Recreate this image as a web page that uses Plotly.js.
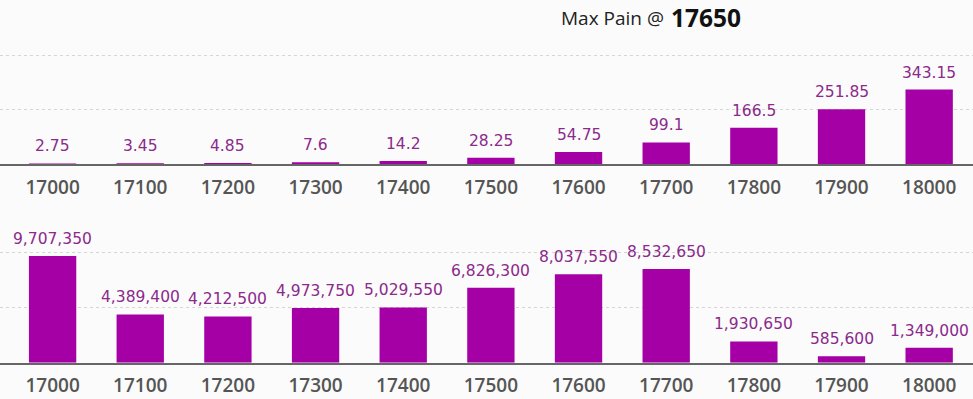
<!DOCTYPE html>
<html>
<head>
<meta charset="utf-8">
<script src="https://cdn.plot.ly/plotly-3.0.1.min.js"></script>
<style>html,body{margin:0;padding:0;background:#fbfbfb;}#chart{width:973px;height:399px;}</style>
</head>
<body>
<div id="chart"></div>
<script>
const strikes = ["17000","17100","17200","17300","17400","17500","17600","17700","17800","17900","18000"];
const painValues = [2.75, 3.45, 4.85, 7.6, 14.2, 28.25, 54.75, 99.1, 166.5, 251.85, 343.15];
const oiValues = [9707350, 4389400, 4212500, 4973750, 5029550, 6826300, 8037550, 8532650, 1930650, 585600, 1349000];
const titlePrefix = "Max Pain @";
const maxPain = "17650";

const barColor = "#a400a6";
const labelColor = "#8b2a8b";
const labelFont = {family: "DejaVu Sans, sans-serif", size: 15.5, color: labelColor};

const data = [
  {type: "bar", x: strikes, y: painValues, xaxis: "x", yaxis: "y",
   marker: {color: barColor}, hoverinfo: "none"},
  {type: "bar", x: strikes, y: oiValues, xaxis: "x2", yaxis: "y2",
   marker: {color: barColor}, hoverinfo: "none"}
];

const annotations = [];
strikes.forEach((s, i) => {
  annotations.push({x: i, y: painValues[i], xref: "x", yref: "y", text: String(painValues[i]),
    showarrow: false, yanchor: "bottom", yshift: 6, font: labelFont});
  annotations.push({x: i, y: oiValues[i], xref: "x2", yref: "y2", text: oiValues[i].toLocaleString("en-US"),
    showarrow: false, yanchor: "bottom", yshift: 6, font: labelFont});
});
annotations.push({xref: "paper", yref: "paper", x: 0.6835, y: 1, xanchor: "right", yanchor: "top",
  yshift: -4, borderpad: 0,
  text: titlePrefix, showarrow: false, font: {family: "Open Sans, sans-serif", size: 19, color: "#222"}});
annotations.push({xref: "paper", yref: "paper", x: 0.6885, y: 1, xanchor: "left", yanchor: "top",
  borderpad: 0,
  text: "<b>" + maxPain + "</b>", showarrow: false, font: {family: "Open Sans, sans-serif", size: 24.5, color: "#111"}});

const xcommon = {
  type: "category", range: [-0.6, 10.5], showgrid: false, showline: true,
  linecolor: "#666", linewidth: 2, ticks: "", ticklabelstandoff: 5,
  tickfont: {family: "Open Sans, sans-serif", size: 19, color: "#555", weight: 600},
  fixedrange: true
};
const ycommon = {
  showgrid: true, gridcolor: "#d6d6d6", griddash: "dot", gridwidth: 1,
  showticklabels: false, zeroline: false, showline: false, ticks: "", fixedrange: true
};

const layout = {
  width: 973, height: 399,
  margin: {l: 0, r: 0, t: 0, b: 0},
  paper_bgcolor: "#fbfbfb", plot_bgcolor: "#fbfbfb",
  showlegend: false, bargap: 0.46,
  annotations: annotations,
  xaxis: Object.assign({}, xcommon, {anchor: "y"}),
  yaxis: Object.assign({}, ycommon, {domain: [0.589, 0.9], range: [0, 572], tickvals: [250, 500]}),
  xaxis2: Object.assign({}, xcommon, {anchor: "y2"}),
  yaxis2: Object.assign({}, ycommon, {domain: [0.091, 0.4185], range: [0, 11890000], tickvals: [5000000, 10000000]})
};

Plotly.newPlot("chart", data, layout, {displayModeBar: false, staticPlot: true});
</script>
</body>
</html>
